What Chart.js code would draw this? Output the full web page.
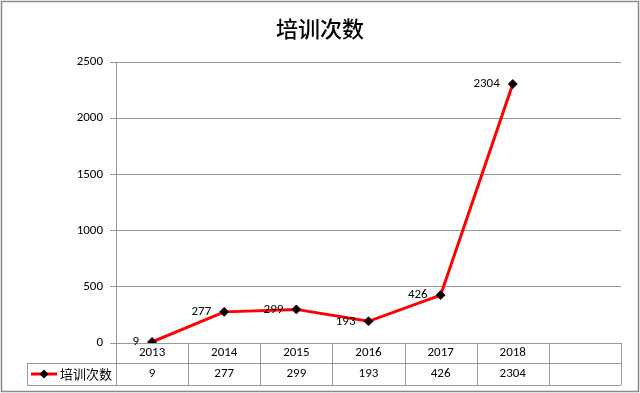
<!DOCTYPE html>
<html>
<head>
<meta charset="utf-8">
<script src="https://cdn.jsdelivr.net/npm/chart.js@4/dist/chart.umd.min.js"></script>
<style>
  html, body { margin: 0; padding: 0; background: #fff; }
  #wrap { width: 640px; height: 393px; }
</style>
</head>
<body>
<div id="wrap"><canvas id="chart" width="640" height="393"></canvas></div>
<script>
// data
const years = ['2013', '2014', '2015', '2016', '2017', '2018', ''];
const trainings = [9, 277, 299, 193, 426, 2304];
const seriesName = '培训次数';
const yTicks = [0, 500, 1000, 1500, 2000, 2500];

const gridColor = '#999999';
const numFont = '13px Carlito, Lato, sans-serif';
const cjkFont = '"Noto Sans CJK SC", sans-serif';

// title, point labels, data table and the outer frame
const extras = {
  id: 'extras',
  afterDraw(chart) {
    const ctx = chart.ctx;
    const x = chart.scales.x;
    const area = chart.chartArea;
    const colW = x.getPixelForValue(1) - x.getPixelForValue(0);
    const left = area.left;
    const right = x.getPixelForValue(years.length - 1) + colW / 2;
    const rowTop = area.bottom;
    const rowMid = rowTop + 20;
    const rowBot = rowMid + 22;
    const legendLeft = 27;

    ctx.save();

    // outer frame
    ctx.strokeStyle = '#8a8a8a';
    ctx.lineWidth = 1.5;
    ctx.strokeRect(1.5, 1.5, chart.width - 3, chart.height - 3);

    // title
    ctx.fillStyle = '#000';
    ctx.font = '500 22px ' + cjkFont;
    ctx.textAlign = 'center';
    ctx.textBaseline = 'middle';
    ctx.fillText(seriesName, 320, 29);

    // point labels, to the left of each point
    ctx.font = numFont;
    ctx.textAlign = 'right';
    const meta = chart.getDatasetMeta(0);
    meta.data.forEach((pt, i) => {
      ctx.fillText(String(trainings[i]), pt.x - 13, pt.y);
    });

    // data table
    ctx.strokeStyle = gridColor;
    ctx.lineWidth = 1;
    ctx.beginPath();
    ctx.moveTo(legendLeft, rowMid + 0.5); ctx.lineTo(right, rowMid + 0.5);
    ctx.moveTo(legendLeft, rowBot + 0.5); ctx.lineTo(right, rowBot + 0.5);
    ctx.moveTo(legendLeft + 0.5, rowMid); ctx.lineTo(legendLeft + 0.5, rowBot);
    for (let i = 0; i <= years.length; i++) {
      const xx = Math.round(left + i * colW) + 0.5;
      ctx.moveTo(xx, rowTop); ctx.lineTo(xx, rowBot);
    }
    ctx.stroke();

    ctx.fillStyle = '#000';
    ctx.textAlign = 'center';
    ctx.font = numFont;
    years.forEach((y, i) => {
      const cx = x.getPixelForValue(i);
      ctx.fillText(y, cx, rowTop + 10);
      if (i < trainings.length) ctx.fillText(String(trainings[i]), cx, rowMid + 11);
    });

    // legend key in the table
    const ly = rowMid + 11;
    ctx.strokeStyle = '#ff0000';
    ctx.lineWidth = 3;
    ctx.beginPath();
    ctx.moveTo(31, ly); ctx.lineTo(57, ly);
    ctx.stroke();
    ctx.fillStyle = '#000';
    ctx.beginPath();
    ctx.moveTo(44, ly - 4.5); ctx.lineTo(48.5, ly); ctx.lineTo(44, ly + 4.5); ctx.lineTo(39.5, ly);
    ctx.closePath();
    ctx.fill();
    ctx.font = '13px ' + cjkFont;
    ctx.textAlign = 'left';
    ctx.fillText(seriesName, 60, ly);

    ctx.restore();
  }
};

new Chart(document.getElementById('chart'), {
  type: 'line',
  data: {
    labels: years,
    datasets: [{
      label: seriesName,
      data: trainings,
      borderColor: '#ff0000',
      borderWidth: 3,
      pointStyle: 'rectRot',
      pointRadius: 4.5,
      pointBackgroundColor: '#000',
      pointBorderColor: '#400000',
      pointBorderWidth: 1,
      tension: 0
    }]
  },
  options: {
    responsive: false,
    animation: false,
    layout: { padding: { top: 62, bottom: 50, right: 19, left: 0 } },
    plugins: {
      legend: { display: false },
      title: { display: false },
      tooltip: { enabled: false }
    },
    scales: {
      x: {
        display: false,
        offset: true
      },
      y: {
        min: 0,
        max: 2500,
        afterBuildTicks: (axis) => { axis.ticks = yTicks.map(v => ({ value: v })); },
        afterFit: (axis) => { axis.width = 116; },
        grid: { color: gridColor, tickLength: 6, lineWidth: 1 },
        border: { color: gridColor, width: 1 },
        ticks: {
          color: '#000',
          padding: 7,
          font: { family: 'Carlito, Lato, sans-serif', size: 13 },
          callback: (v) => String(v)
        }
      }
    }
  },
  plugins: [extras]
});
</script>
</body>
</html>
